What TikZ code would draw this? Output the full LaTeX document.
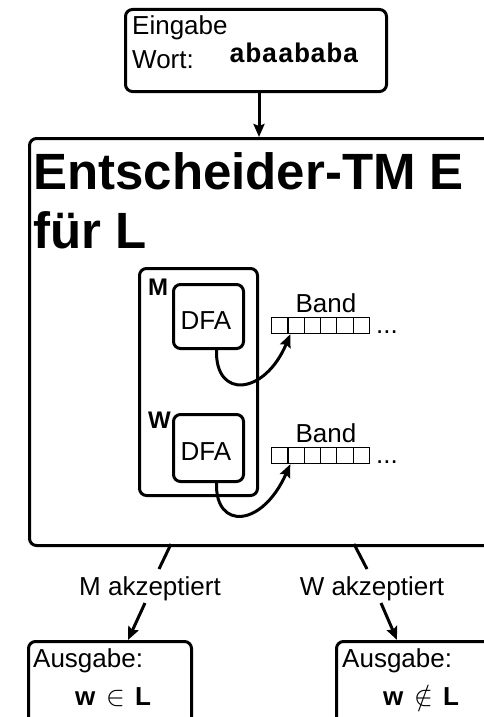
\documentclass[tikz,border=0pt]{standalone}
\usepackage{fontspec}
\setmainfont{Liberation Sans}
\setmonofont{Liberation Mono}
\newfontfamily\lmm{Latin Modern Math}
\usetikzlibrary{arrows.meta}
\begin{document}
\begin{tikzpicture}[x=1pt,y=-1pt,
  box/.style={draw,line width=3pt,rounded corners=7pt,anchor=north west,inner sep=0pt},
  txt/.style={anchor=base west,inner sep=0pt,font=\fontsize{26}{30}\selectfont},
  lbl/.style={anchor=base,inner sep=0pt,font=\fontsize{26}{30}\selectfont},
  bigtitle/.style={anchor=base west,inner sep=0pt,font=\fontsize{51}{59}\selectfont\bfseries},
  tag/.style={anchor=base west,inner sep=0pt,font=\fontsize{24}{28}\selectfont\bfseries},
  arr/.style={line width=3pt,-{Stealth[length=13pt,width=11pt,inset=2pt]}},
  conn/.style={line width=3pt},
  cell/.style={draw,line width=1.2pt,minimum width=16.3pt,minimum height=16pt,inner sep=0pt,anchor=north west}]
\useasboundingbox (0,0) rectangle (484,717);
\clip (0,0) rectangle (484,717);
% input
\node[box,minimum width=261pt,minimum height=82pt] (input) at (124,8) {};
\node[txt] (ein) at (132,35) {Eingabe};
\node[txt] (wort) at (132,68) {Wort:};
\node[txt,font=\fontsize{27}{30}\selectfont\ttfamily\bfseries] (word) at (229,63) {abaababa};
% big TM box
\node[box,minimum width=480pt,minimum height=407pt] (tm) at (28,137) {};
\node[bigtitle] (t1) at (33,189) {Entscheider-TM E};
\node[bigtitle] (t2) at (33,248) {für L};
\draw[arr] ([xshift=3pt]input.south) -- ([xshift=3pt]input.south |- tm.north);
% container
\node[box,minimum width=118pt,minimum height=227pt] (cont) at (138,267) {};
\node[tag] (lm) at (148,295) {M};
\node[box,minimum width=70pt,minimum height=64pt] (dfa1) at (172,283) {};
\node[lbl] (d1) at (206,329) {DFA};
\node[tag] (lw) at (148,428) {W};
\node[box,minimum width=70pt,minimum height=67pt] (dfa2) at (172,413) {};
\node[lbl] (d2) at (206,460) {DFA};
% tapes
\node[lbl] (b1) at (326,312) {Band};
\node[lbl] (b2) at (326,442) {Band};
\foreach \i in {1,...,6} {
  \node[cell] (c1\i) at ({271+16.3*(\i-1)},317) {};
  \node[cell] (c2\i) at ({271+16.3*(\i-1)},447) {};
}
\node[txt] (dots1) at (376,333) {...};
\node[txt] (dots2) at (376,463) {...};
\draw[arr] ([xshift=8pt]dfa1.south) .. controls (215,400) and (265,395) .. ([xshift=3pt]c12.south west);
\draw[arr] ([xshift=8pt]dfa2.south) .. controls (215,530) and (262,528) .. ([xshift=3pt]c22.south west);
% outputs
\node[box,minimum width=163pt,minimum height=100pt] (outM) at (27,640) {};
\node[box,minimum width=170pt,minimum height=100pt] (outW) at (335,640) {};
\node[txt] (aM) at (33,667) {Ausgabe:};
\node[txt] (rM) at (75,705) {\textbf{w}\hspace{11pt}{\lmm\fontsize{28}{30}\selectfont ∈}\hspace{10pt}\textbf{L}};
\node[txt] (aW) at (342,667) {Ausgabe:};
\node[txt] (rW) at (383,705) {\textbf{w}\hspace{11pt}{\lmm\fontsize{28}{30}\selectfont ∉}\hspace{10pt}\textbf{L}};
\node[lbl] (lblM) at (150,595) {M akzeptiert};
\node[lbl] (lblW) at (372,595) {W akzeptiert};
\coordinate (m1) at (171,544);
\coordinate (m2) at (159,569);
\coordinate (m3) at (145,603);
\coordinate (w1) at (354,544);
\coordinate (w2) at (367,569);
\coordinate (w3) at (381,603);
\draw[conn] (m1) -- (m2);
\draw[conn] (w1) -- (w2);
\draw[arr] (m3) -- ([xshift=101pt]outM.north west);
\draw[arr] (w3) -- ([xshift=62pt]outW.north west);
\end{tikzpicture}
\end{document}
